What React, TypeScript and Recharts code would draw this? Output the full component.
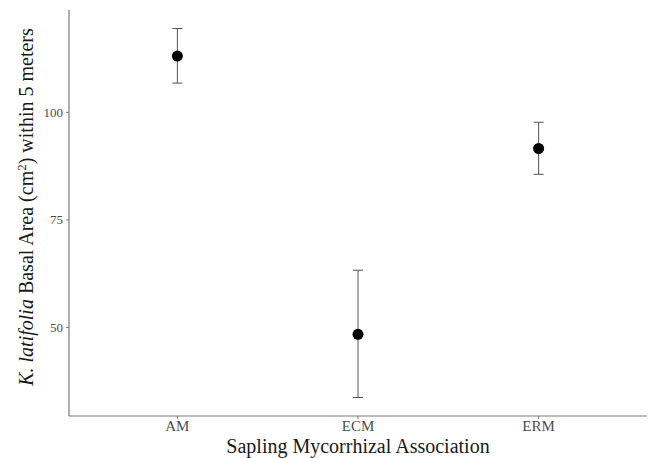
import React from "react";
import { ScatterChart, Scatter, XAxis, YAxis, ErrorBar } from "recharts";

// valores
const categorias = ["AM", "ECM", "ERM"];
const medias = [113.1, 48.4, 91.6];
const inferior = [106.8, 33.7, 85.6];
const superior = [119.5, 63.3, 97.7];
const ticksY = [50, 75, 100];

const datos = categorias.map((c, i) => ({
  x: i + 1,
  nombre: c,
  y: medias[i],
  err: [medias[i] - inferior[i], superior[i] - medias[i]],
}));

const fuente = "'Liberation Serif', 'Times New Roman', serif";

const TituloY = (props: any) => {
  const vb = props.viewBox;
  const cx = 33;
  const cy = vb.y + vb.height / 2 - 6;
  return (
    <text
      x={cx}
      y={cy}
      transform={`rotate(-90, ${cx}, ${cy})`}
      textAnchor="middle"
      fontFamily={fuente}
      fontSize={20}
      fill="#1a1a1a"
    >
      <tspan fontStyle="italic">K. latifolia</tspan>
      <tspan> Basal Area (cm</tspan>
      <tspan fontSize={13} dy={-7}>2</tspan>
      <tspan dy={7}>) within 5 meters</tspan>
    </text>
  );
};

const TituloX = (props: any) => {
  const vb = props.viewBox;
  return (
    <text
      x={vb.x + vb.width / 2}
      y={vb.y + 37}
      textAnchor="middle"
      fontFamily={fuente}
      fontSize={20}
      fill="#1a1a1a"
    >
      Sapling Mycorrhizal Association
    </text>
  );
};

const Punto = (props: any) => <circle cx={props.cx} cy={props.cy} r={5.5} fill="#000" />;

export default function App() {
  return (
    <div style={{ position: "absolute", left: 0, top: 0, background: "#fff" }}>
      <ScatterChart width={651} height={458} margin={{ top: 10, right: 4, bottom: 0, left: 0 }}>
        <XAxis
          type="number"
          dataKey="x"
          domain={[0.4, 3.6]}
          ticks={[1, 2, 3]}
          allowDataOverflow
          tickFormatter={(v: number) => categorias[v - 1]}
          height={42}
          axisLine={{ stroke: "#7a7a7a", strokeWidth: 1.2 }}
          tickLine={{ stroke: "#7a7a7a" }}
          tickSize={3}
          tickMargin={1}
          tick={{ fontFamily: fuente, fontSize: 15, fill: "#4d4d4d" }}
          label={<TituloX />}
        />
        <YAxis
          type="number"
          dataKey="y"
          domain={[29.4, 123.8]}
          ticks={ticksY}
          allowDataOverflow
          width={69}
          axisLine={{ stroke: "#7a7a7a", strokeWidth: 1.2 }}
          tickLine={{ stroke: "#7a7a7a" }}
          tickSize={3}
          tickMargin={3}
          tick={{ fontFamily: fuente, fontSize: 13, fill: "#4d4d4d" }}
          label={<TituloY />}
        />
        <Scatter data={datos} dataKey="y" shape={<Punto />} isAnimationActive={false}>
          <ErrorBar dataKey="err" direction="y" width={5} stroke="#555" strokeWidth={1} isAnimationActive={false} />
        </Scatter>
      </ScatterChart>
    </div>
  );
}
